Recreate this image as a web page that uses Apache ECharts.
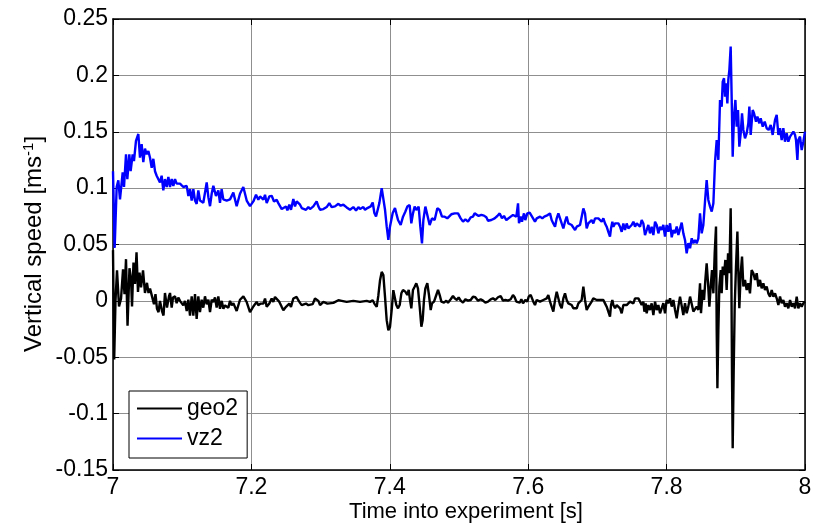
<!DOCTYPE html>
<html>
<head>
<meta charset="utf-8">
<script src="https://cdn.jsdelivr.net/npm/echarts@6/dist/echarts.min.js"></script>
<style>
  html, body { margin: 0; padding: 0; background: #fff; }
  #chart { width: 817px; height: 527px; }
</style>
</head>
<body>
<div id="chart"></div>
<script>
// Axis ticks
const xTicks = [7, 7.2, 7.4, 7.6, 7.8, 8];
const yTicks = [-0.15, -0.1, -0.05, 0, 0.05, 0.1, 0.15, 0.2, 0.25];
const seriesNames = ['geo2', 'vz2'];
const xTitle = 'Time into experiment [s]';

// geo2: geophone vertical speed, [time s, speed m/s]
const geo2 = [
  [7.0000,0.045],[7.0017,-0.052],[7.0036,0.000],[7.0058,0.027],[7.0087,-0.005],[7.0116,0.002],[7.0145,0.028],[7.0166,0.006],
  [7.0188,0.037],[7.0210,-0.022],[7.0238,0.029],[7.0260,0.020],[7.0275,-0.005],[7.0296,0.034],[7.0318,0.015],[7.0340,0.043],
  [7.0361,0.008],[7.0383,0.025],[7.0405,0.012],[7.0434,0.027],[7.0462,0.007],[7.0491,0.016],[7.0513,0.007],[7.0535,0.011],
  [7.0564,0.004],[7.0592,-0.003],[7.0614,0.006],[7.0636,-0.007],[7.0658,-0.010],[7.0679,0.000],[7.0708,-0.009],[7.0730,-0.013],
  [7.0751,0.007],[7.0780,-0.006],[7.0809,0.004],[7.0824,0.007],[7.0848,-0.006],[7.0867,0.003],[7.0896,0.004],[7.0920,-0.002],
  [7.0944,0.003],[7.0968,0.000],[7.0992,-0.001],[7.1016,-0.004],[7.1040,0.000],[7.1065,-0.009],[7.1089,0.001],[7.1113,-0.013],
  [7.1137,0.004],[7.1161,-0.013],[7.1185,0.006],[7.1209,-0.016],[7.1233,0.004],[7.1257,-0.010],[7.1281,0.001],[7.1305,-0.006],
  [7.1329,0.004],[7.1354,-0.003],[7.1378,0.001],[7.1402,-0.010],[7.1426,0.001],[7.1450,-0.001],[7.1474,0.003],[7.1498,-0.006],
  [7.1522,0.004],[7.1546,-0.007],[7.1571,0.000],[7.1595,-0.007],[7.1619,-0.004],[7.1667,-0.006],[7.1691,0.000],[7.1715,-0.004],
  [7.1739,-0.002],[7.1787,-0.009],[7.1835,0.001],[7.1884,0.004],[7.1932,-0.001],[7.1980,-0.010],[7.2028,-0.005],
  [7.2052,-0.0038],[7.2076,-0.0009],[7.2100,-0.0038],[7.2134,-0.0024],[7.2173,-0.0024],[7.2197,0.0021],[7.2221,-0.0053],
  [7.2259,-0.0024],[7.2293,0.0021],[7.2317,-0.0009],[7.2341,0.0035],[7.2365,0.0021],[7.2404,-0.0009],[7.2438,-0.0053],
  [7.2462,-0.0083],[7.2500,-0.0053],[7.2520,-0.0038],[7.2548,-0.0024],[7.2572,-0.0053],[7.2606,0.0021],[7.2654,0.0035],
  [7.2678,0.0006],[7.2703,-0.0018],[7.2727,-0.0038],[7.2789,-0.0024],[7.2823,-0.0038],[7.2886,-0.0029],[7.2919,0.0021],
  [7.2943,0.0030],[7.2968,0.0000],[7.2992,-0.0038],[7.3040,-0.0009],[7.3098,-0.0024],[7.3126,-0.0038],[7.3184,-0.0018],
  [7.3257,0.0006],[7.3281,0.0021],[7.3305,0.0000],[7.3377,-0.0009],[7.3473,0.0000],[7.3570,-0.0009],[7.3666,0.0000],
  [7.3714,-0.0009],[7.3753,0.0006],[7.3777,-0.0024],[7.3811,-0.0053],[7.3835,0.0050],[7.3859,0.0183],[7.3883,0.0257],
  [7.3907,0.0228],[7.3931,0.0035],[7.3955,-0.0171],[7.3979,-0.0260],[7.4003,-0.0231],[7.4027,-0.0083],[7.4051,0.0095],
  [7.4070,0.0097],[7.4094,-0.0037],[7.4119,-0.0066],[7.4143,-0.0037],[7.4167,0.0067],[7.4191,0.0097],[7.4224,0.0082],
  [7.4253,0.0052],[7.4273,0.0097],[7.4292,0.0008],[7.4311,-0.0066],[7.4335,0.0097],[7.4359,0.0126],[7.4383,0.0156],
  [7.4407,0.0111],[7.4432,-0.0051],[7.4456,-0.0229],[7.4475,-0.0170],[7.4494,0.0008],[7.4514,0.0111],[7.4542,0.0156],
  [7.4566,0.0052],[7.4591,-0.0081],[7.4610,-0.0022],[7.4639,-0.0007],[7.4672,0.0052],[7.4697,0.0097],[7.4721,0.0052],
  [7.4745,-0.0007],[7.4783,-0.0016],[7.4817,0.0002],[7.4841,-0.0016],[7.4880,0.0014],[7.4913,0.0043],[7.4937,0.0023],
  [7.4971,0.0008],[7.4995,0.0032],[7.5024,0.0002],[7.5058,-0.0016],[7.5092,0.0014],[7.5130,0.0002],[7.5169,0.0008],
  [7.5202,0.0037],[7.5236,0.0032],[7.5275,0.0002],[7.5313,0.0014],[7.5347,0.0002],[7.5381,-0.0016],[7.5419,-0.0007],
  [7.5458,0.0014],[7.5491,0.0023],[7.5525,0.0008],[7.5564,0.0032],[7.5602,0.0043],[7.5636,0.0002],[7.5670,0.0008],
  [7.5708,0.0002],[7.5747,0.0014],[7.5780,0.0052],[7.5804,0.0032],[7.5829,-0.0007],[7.5853,0.0008],[7.5877,-0.0016],
  [7.5901,0.0014],[7.5925,-0.0022],[7.5958,0.0008],[7.5987,-0.0007],[7.6007,0.0037],[7.6036,0.0052],
  [7.6074,-0.0007],[7.6098,-0.0037],[7.6123,0.0008],[7.6147,0.0022],[7.6171,-0.0007],[7.6195,-0.0022],[7.6219,0.0008],
  [7.6243,-0.0007],[7.6267,0.0022],[7.6291,0.0052],[7.6315,-0.0007],[7.6339,-0.0052],[7.6363,-0.0096],[7.6388,0.0008],
  [7.6412,0.0081],[7.6436,0.0067],[7.6460,-0.0037],[7.6484,-0.0066],[7.6508,0.0022],[7.6532,0.0067],[7.6556,0.0008],
  [7.6580,-0.0022],[7.6604,-0.0007],[7.6628,-0.0037],[7.6652,-0.0066],[7.6677,-0.0081],[7.6701,-0.0066],[7.6725,-0.0022],
  [7.6749,-0.0037],[7.6773,0.0008],[7.6797,0.0126],[7.6821,0.0008],[7.6845,-0.0081],[7.6869,-0.0052],[7.6893,-0.0037],
  [7.6917,-0.0007],[7.6941,0.0022],[7.6966,0.0037],[7.6990,0.0008],[7.7014,0.0022],[7.7038,0.0008],[7.7062,-0.0007],
  [7.7086,0.0008],[7.7110,-0.0022],[7.7134,-0.0052],[7.7158,-0.0066],[7.7182,-0.0140],[7.7197,-0.0037],[7.7216,0.0008],
  [7.7231,-0.0037],[7.7255,-0.0066],[7.7279,-0.0037],[7.7303,-0.0022],[7.7327,-0.0066],[7.7351,-0.0111],[7.7375,-0.0037],
  [7.7399,-0.0052],[7.7423,-0.0037],[7.7447,-0.0022],[7.7471,-0.0007],[7.7495,0.0008],[7.7520,-0.0022],[7.7544,0.0022],
  [7.7568,0.0008],[7.7592,0.0022],[7.7616,0.0008],[7.7640,-0.0037],[7.7664,-0.0007],[7.7679,-0.0096],[7.7698,-0.0022],
  [7.7712,-0.0111],[7.7736,-0.0037],[7.7760,-0.0081],[7.7784,-0.0022],[7.7809,-0.0126],[7.7833,-0.0007],[7.7857,-0.0081],
  [7.7881,-0.0037],[7.7905,-0.0111],
  [7.7929,-0.0095],[7.7953,-0.0021],[7.7977,-0.0110],[7.8001,0.0008],[7.8025,-0.0021],[7.8050,0.0023],[7.8074,-0.0051],
  [7.8098,0.0008],[7.8122,-0.0080],[7.8146,-0.0154],[7.8170,-0.0051],[7.8194,0.0038],[7.8218,0.0023],[7.8242,-0.0125],
  [7.8266,-0.0021],[7.8290,-0.0110],[7.8314,-0.0051],[7.8339,0.0038],[7.8363,0.0053],[7.8387,-0.0095],[7.8411,-0.0080],
  [7.8435,-0.0051],[7.8459,-0.0080],[7.8483,0.0156],[7.8497,-0.0110],[7.8522,0.0097],[7.8541,0.0008],[7.8560,0.0186],
  [7.8579,0.0333],[7.8599,0.0156],[7.8618,-0.0051],[7.8637,0.0127],[7.8656,0.0274],[7.8676,0.0067],[7.8695,0.0422],
  [7.8714,0.0659],[7.8724,-0.0258],[7.8734,-0.0775],[7.8748,-0.0258],[7.8762,0.0127],[7.8782,0.0274],[7.8796,0.0067],
  [7.8811,0.0304],[7.8830,0.0230],[7.8849,0.0363],[7.8868,0.0097],[7.8888,0.0422],[7.8907,0.0245],[7.8926,0.0821],
  [7.8936,0.0245],[7.8945,-0.0642],[7.8955,-0.1307],[7.8969,-0.0642],[7.8984,-0.0051],[7.9003,0.0304],[7.9023,0.0614],
  [7.9037,0.0245],[7.9051,-0.0066],[7.9071,0.0245],[7.9090,0.0393],[7.9109,0.0127],[7.9133,0.0186],[7.9157,0.0097],
  [7.9181,0.0156],[7.9205,0.0067],[7.9229,0.0274],[7.9254,0.0245],[7.9278,0.0186],[7.9302,0.0245],[7.9326,0.0127],
  [7.9350,0.0186],[7.9374,0.0112],[7.9398,0.0156],[7.9422,0.0097],[7.9446,0.0127],[7.9470,0.0067],[7.9495,0.0038],
  [7.9519,0.0097],[7.9543,0.0038],[7.9567,0.0067],[7.9591,0.0023],[7.9615,-0.0036],[7.9639,0.0038],[7.9663,-0.0021],
  [7.9687,0.0008],[7.9711,-0.0051],[7.9735,-0.0021],[7.9759,-0.0066],[7.9784,0.0008],[7.9808,-0.0051],[7.9832,-0.0021],
  [7.9856,-0.0066],[7.9880,0.0038],[7.9904,-0.0066],[7.9928,-0.0021],[7.9952,-0.0051],[7.9976,-0.0021],[8.0000,-0.0006]
];

// vz2: reference vertical speed, [time s, speed m/s]
const vz2 = [
  [7.0000,0.115],[7.0024,0.047],[7.0053,0.101],[7.0077,0.107],[7.0101,0.090],[7.0140,0.114],[7.0159,0.101],[7.0188,0.130],
  [7.0207,0.108],[7.0236,0.130],[7.0255,0.115],[7.0284,0.130],[7.0303,0.124],[7.0332,0.142],[7.0366,0.148],[7.0390,0.127],
  [7.0414,0.139],[7.0438,0.123],[7.0462,0.135],[7.0487,0.130],[7.0511,0.133],[7.0535,0.127],[7.0559,0.118],[7.0583,0.126],
  [7.0607,0.115],[7.0631,0.111],[7.0655,0.112],[7.0679,0.105],[7.0703,0.111],[7.0727,0.098],[7.0751,0.108],[7.0776,0.101],
  [7.0800,0.110],[7.0824,0.101],[7.0848,0.108],[7.0872,0.102],[7.0896,0.108],[7.0920,0.104],[7.0968,0.104],[7.1016,0.101],
  [7.1065,0.102],[7.1089,0.093],[7.1113,0.099],[7.1137,0.089],[7.1161,0.099],[7.1185,0.089],[7.1209,0.086],[7.1233,0.098],
  [7.1257,0.089],[7.1305,0.087],[7.1354,0.105],[7.1378,0.092],[7.1402,0.084],[7.1426,0.095],[7.1450,0.102],[7.1488,0.093],
  [7.1522,0.098],[7.1546,0.087],[7.1570,0.099],[7.1594,0.090],[7.1643,0.089],[7.1691,0.090],[7.1739,0.096],[7.1787,0.084],
  [7.1835,0.095],[7.1883,0.101],[7.1932,0.089],[7.1980,0.084],
  [7.2028,0.0882],[7.2067,0.0941],[7.2100,0.0897],[7.2125,0.0926],[7.2173,0.0897],[7.2197,0.0941],[7.2221,0.0867],
  [7.2259,0.0926],[7.2293,0.0932],[7.2327,0.0882],[7.2365,0.0897],[7.2389,0.0867],[7.2414,0.0882],[7.2438,0.0814],
  [7.2462,0.0808],[7.2500,0.0838],[7.2520,0.0802],[7.2548,0.0853],[7.2572,0.0808],[7.2606,0.0903],[7.2630,0.0838],
  [7.2654,0.0882],[7.2703,0.0853],[7.2727,0.0823],[7.2751,0.0838],[7.2789,0.0808],[7.2823,0.0832],[7.2847,0.0814],
  [7.2895,0.0838],[7.2919,0.0853],[7.2943,0.0882],[7.2968,0.0838],[7.2992,0.0808],[7.3040,0.0814],[7.3088,0.0832],
  [7.3126,0.0867],[7.3160,0.0832],[7.3208,0.0838],[7.3257,0.0861],[7.3290,0.0844],[7.3329,0.0853],[7.3377,0.0829],
  [7.3401,0.0844],[7.3425,0.0808],[7.3473,0.0832],[7.3512,0.0802],[7.3546,0.0832],[7.3570,0.0814],[7.3618,0.0832],
  [7.3642,0.0808],[7.3676,0.0823],[7.3704,0.0814],[7.3724,0.0838],[7.3753,0.0873],[7.3777,0.0779],[7.3801,0.0749],
  [7.3825,0.0734],[7.3849,0.0867],[7.3883,0.1000],[7.3907,0.0986],[7.3931,0.0808],[7.3955,0.0660],[7.3979,0.0542],
  [7.4003,0.0660],[7.4042,0.0779],[7.4075,0.0823],
  [7.4094,0.0776],[7.4119,0.0717],[7.4157,0.0673],[7.4191,0.0747],[7.4224,0.0791],[7.4253,0.0836],[7.4287,0.0850],
  [7.4311,0.0688],[7.4335,0.0776],[7.4359,0.0836],[7.4383,0.0806],[7.4417,0.0836],[7.4441,0.0658],[7.4465,0.0510],
  [7.4485,0.0717],[7.4514,0.0836],[7.4542,0.0850],[7.4576,0.0673],[7.4610,0.0732],[7.4648,0.0717],[7.4687,0.0821],
  [7.4721,0.0806],[7.4754,0.0747],[7.4793,0.0747],[7.4831,0.0732],[7.4889,0.0768],[7.4937,0.0776],[7.4961,0.0762],
  [7.4986,0.0776],[7.5024,0.0732],[7.5058,0.0703],[7.5092,0.0723],[7.5130,0.0703],[7.5169,0.0741],[7.5202,0.0747],
  [7.5226,0.0776],[7.5251,0.0785],[7.5284,0.0753],[7.5323,0.0762],[7.5361,0.0756],[7.5395,0.0741],[7.5419,0.0711],
  [7.5467,0.0717],[7.5515,0.0732],[7.5554,0.0753],[7.5588,0.0776],[7.5621,0.0732],[7.5650,0.0753],[7.5684,0.0717],
  [7.5708,0.0723],[7.5747,0.0747],[7.5780,0.0762],[7.5804,0.0776],[7.5829,0.0747],[7.5853,0.0865],[7.5867,0.0688],
  [7.5891,0.0747],[7.5910,0.0703],[7.5939,0.0776],[7.5958,0.0717],[7.5987,0.0776],[7.6021,0.0782],
  [7.6098,0.0702],[7.6123,0.0732],[7.6147,0.0717],[7.6171,0.0747],[7.6204,0.0732],[7.6233,0.0747],[7.6253,0.0732],
  [7.6282,0.0761],[7.6315,0.0776],[7.6339,0.0717],[7.6363,0.0687],[7.6388,0.0658],[7.6412,0.0732],[7.6436,0.0776],
  [7.6460,0.0761],[7.6484,0.0687],[7.6508,0.0643],[7.6532,0.0702],[7.6556,0.0747],[7.6580,0.0687],[7.6604,0.0702],
  [7.6628,0.0673],[7.6652,0.0658],[7.6677,0.0628],[7.6701,0.0658],[7.6725,0.0673],[7.6749,0.0673],[7.6773,0.0658],
  [7.6797,0.0820],[7.6821,0.0776],[7.6845,0.0643],[7.6869,0.0687],[7.6893,0.0702],[7.6917,0.0717],[7.6941,0.0687],
  [7.6966,0.0732],[7.6990,0.0747],[7.7014,0.0732],[7.7038,0.0717],[7.7062,0.0702],[7.7086,0.0732],[7.7110,0.0687],
  [7.7134,0.0658],[7.7158,0.0613],[7.7182,0.0569],[7.7197,0.0643],[7.7216,0.0702],[7.7231,0.0658],[7.7255,0.0687],
  [7.7279,0.0702],[7.7303,0.0687],[7.7327,0.0658],[7.7351,0.0613],[7.7375,0.0687],[7.7399,0.0628],[7.7423,0.0687],
  [7.7447,0.0643],[7.7471,0.0658],[7.7495,0.0673],[7.7520,0.0702],[7.7544,0.0658],[7.7568,0.0687],[7.7592,0.0673],
  [7.7616,0.0658],[7.7640,0.0717],[7.7664,0.0687],[7.7688,0.0584],[7.7712,0.0628],[7.7736,0.0673],[7.7760,0.0599],
  [7.7784,0.0658],[7.7809,0.0584],[7.7833,0.0702],[7.7857,0.0673],[7.7881,0.0599],[7.7905,0.0658],
  [7.7929,0.0629],[7.7953,0.0673],[7.7977,0.0570],[7.8001,0.0673],[7.8025,0.0614],[7.8050,0.0688],[7.8074,0.0564],
  [7.8098,0.0629],[7.8122,0.0599],[7.8146,0.0659],[7.8170,0.0585],[7.8194,0.0570],[7.8218,0.0694],[7.8242,0.0599],
  [7.8266,0.0540],[7.8290,0.0422],[7.8314,0.0511],[7.8339,0.0467],[7.8363,0.0555],[7.8387,0.0511],[7.8411,0.0540],
  [7.8435,0.0511],[7.8459,0.0555],[7.8483,0.0777],[7.8507,0.0599],[7.8531,0.0673],[7.8555,0.0880],[7.8579,0.1072],
  [7.8603,0.0895],[7.8628,0.0836],[7.8652,0.0792],[7.8676,0.0866],[7.8700,0.1235],[7.8724,0.1427],[7.8748,0.1250],
  [7.8772,0.1782],[7.8796,0.1723],[7.8811,0.1944],[7.8830,0.1974],[7.8844,0.1811],[7.8859,0.1930],[7.8878,0.1752],
  [7.8892,0.1959],[7.8907,0.2048],[7.8926,0.2255],[7.8941,0.1782],[7.8955,0.1279],[7.8974,0.1634],[7.8994,0.1782],
  [7.9013,0.1545],[7.9032,0.1693],[7.9051,0.1368],[7.9071,0.1486],[7.9090,0.1664],[7.9109,0.1516],[7.9133,0.1442],
  [7.9157,0.1486],[7.9181,0.1575],[7.9196,0.1723],[7.9215,0.1472],[7.9244,0.1693],[7.9263,0.1664],[7.9292,0.1590],
  [7.9312,0.1634],[7.9340,0.1575],[7.9360,0.1619],[7.9389,0.1545],[7.9418,0.1590],[7.9446,0.1531],[7.9475,0.1516],
  [7.9504,0.1560],[7.9533,0.1472],[7.9567,0.1605],[7.9591,0.1649],[7.9615,0.1472],[7.9639,0.1531],[7.9663,0.1427],
  [7.9687,0.1531],[7.9711,0.1412],[7.9735,0.1486],[7.9759,0.1412],[7.9784,0.1457],[7.9808,0.1442],[7.9832,0.1501],
  [7.9856,0.1472],[7.9870,0.1427],[7.9890,0.1250],[7.9904,0.1427],[7.9928,0.1457],[7.9952,0.1338],[7.9976,0.1412],
  [8.0000,0.1501]
];

const FONT = '"Liberation Sans", Arial, Helvetica, sans-serif';
const TICK_FS = 23;
const TITLE_FS = 22;
const LEGEND_FS = 23;
const lineColors = ['#000000', '#0000ff'];

function tickText(list, v) {
  const hit = list.find(k => Math.abs(k - v) < 1e-9);
  return hit === undefined ? '' : String(hit);
}

const boxLine = { show: true, onZero: false, lineStyle: { color: '#000', width: 1.5 } };
const innerTick = { show: true, inside: true, length: 6, lineStyle: { color: '#000', width: 1 } };
const gridLine = { show: true, lineStyle: { color: '#8f8f8f', width: 1 } };

const chart = echarts.init(document.getElementById('chart'), null, { renderer: 'canvas' });
chart.setOption({
  animation: false,
  backgroundColor: '#fff',
  grid: { left: 113, top: 19, width: 692, height: 451, containLabel: false, outerBoundsMode: 'none' },
  xAxis: [
    {
      type: 'value', min: 7, max: 8, interval: 0.2, position: 'bottom',
      axisLine: boxLine, axisTick: innerTick, splitLine: gridLine,
      axisLabel: { margin: 6, color: '#000', fontSize: TICK_FS, fontFamily: FONT, formatter: v => tickText(xTicks, v) }
    },
    {
      type: 'value', min: 7, max: 8, interval: 0.2, position: 'top',
      axisLine: boxLine, axisTick: innerTick, splitLine: { show: false }, axisLabel: { show: false }
    }
  ],
  yAxis: [
    {
      type: 'value', min: -0.15, max: 0.25, interval: 0.05, position: 'left',
      axisLine: boxLine, axisTick: innerTick, splitLine: gridLine,
      axisLabel: {
        margin: 5, color: '#000', fontSize: TICK_FS, fontFamily: FONT,
        padding: [5, 0, 0, 0], formatter: v => tickText(yTicks, v)
      }
    },
    {
      type: 'value', min: -0.15, max: 0.25, interval: 0.05, position: 'right',
      axisLine: boxLine, axisTick: innerTick, splitLine: { show: false }, axisLabel: { show: false }
    }
  ],
  legend: {
    orient: 'vertical', left: 129, top: 391,
    itemWidth: 45, itemHeight: 2, itemGap: 7, itemTextGap: 5,
    padding: [6, 9, 8, 8],
    backgroundColor: '#fff', borderColor: '#000', borderWidth: 1, borderRadius: 0,
    textStyle: { fontSize: LEGEND_FS, color: '#000', fontFamily: FONT },
    data: seriesNames.map(n => ({ name: n, icon: 'rect' }))
  },
  series: [
    {
      name: seriesNames[0], type: 'line', data: geo2, xAxisIndex: 0, yAxisIndex: 0,
      showSymbol: false, symbol: 'none', clip: true,
      lineStyle: { color: lineColors[0], width: 2.4 }, itemStyle: { color: lineColors[0] }
    },
    {
      name: seriesNames[1], type: 'line', data: vz2, xAxisIndex: 0, yAxisIndex: 0,
      showSymbol: false, symbol: 'none', clip: true,
      lineStyle: { color: lineColors[1], width: 2.4 }, itemStyle: { color: lineColors[1] }
    }
  ],
  graphic: [
    {
      type: 'text', x: 466, y: 512,
      style: { text: xTitle, fontSize: TITLE_FS, fontFamily: FONT, fill: '#000', align: 'center', verticalAlign: 'middle' }
    },
    {
      type: 'text', x: 34, y: 244, rotation: Math.PI / 2,
      style: {
        text: '{a|Vertical speed [ms}{s|-1}{a|]}',
        align: 'center', verticalAlign: 'middle',
        rich: {
          a: { fontSize: 24, fontFamily: FONT, fill: '#000' },
          s: { fontSize: 15, fontFamily: FONT, fill: '#000', padding: [0, 0, 11, 0] }
        }
      }
    }
  ]
});
</script>
</body>
</html>
